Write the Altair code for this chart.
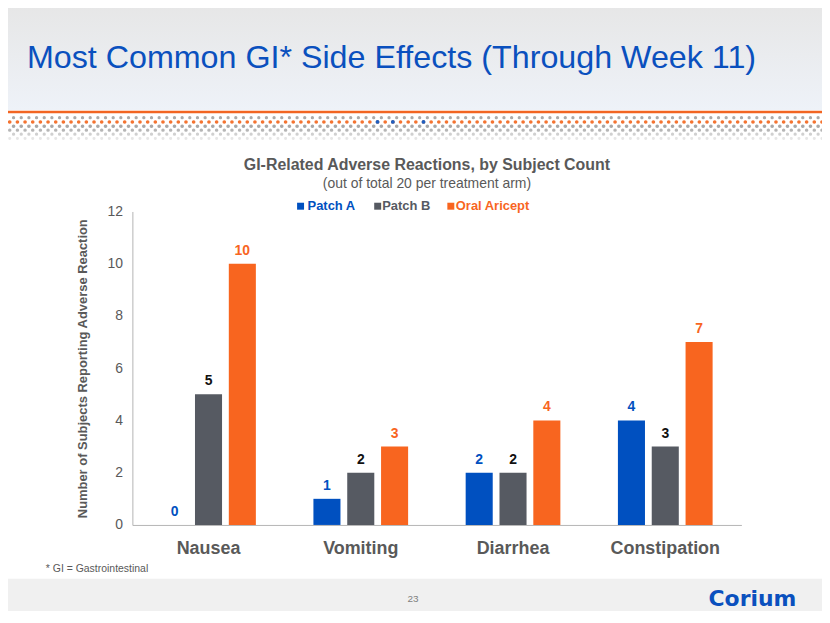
import altair as alt
import pandas as pd

# ---------------- data ----------------
categories = ["Nausea", "Vomiting", "Diarrhea", "Constipation"]
series = ["Patch A", "Patch B", "Oral Aricept"]
patch_a = [0, 1, 2, 4]
patch_b = [5, 2, 2, 3]
oral_aricept = [10, 3, 4, 7]
y_ticks = [0, 2, 4, 6, 8, 10, 12]

main_title = "Most Common GI* Side Effects (Through Week 11)"
chart_title = "GI-Related Adverse Reactions, by Subject Count"
chart_subtitle = "(out of total 20 per treatment arm)"
y_title = "Number of Subjects Reporting Adverse Reaction"
footnote = "* GI = Gastrointestinal"
page_number = "23"
logo_text = "Corium"

# ---------------- styles ----------------
bar_colors = ["#0050c0", "#565a62", "#f8651f"]
label_colors = ["#0050c0", "#111111", "#f8651f"]
GRAY_TEXT = "#595959"
TITLE_BLUE = "#0a50be"
FONT = "Liberation Sans"

rows = []
for s, vals in zip(series, [patch_a, patch_b, oral_aricept]):
    for c, v in zip(categories, vals):
        rows.append({"category": c, "series": s, "value": v})
df = pd.DataFrame(rows)
one = pd.DataFrame({"k": [0]})

W, H = 612, 315  # plot area
TOTAL_W, TOTAL_H = 818, 603

x_enc = alt.X(
    "category:N",
    sort=categories,
    scale=alt.Scale(domain=categories, paddingInner=0.378, paddingOuter=0.189),
    axis=alt.Axis(
        title=None, labelAngle=0, labelFont=FONT, labelFontSize=18,
        labelFontWeight="bold", labelColor=GRAY_TEXT, labelPadding=15,
        ticks=False, domainColor="#b4b4b4", domainWidth=1, grid=False,
    ),
)
xo_enc = alt.XOffset(
    "series:N", scale=alt.Scale(domain=series, paddingInner=0.2, paddingOuter=0)
)
y_enc = alt.Y(
    "value:Q",
    scale=alt.Scale(domain=[0, 12], nice=False),
    axis=alt.Axis(
        values=y_ticks, grid=False, ticks=False, labelFont=FONT,
        labelFontSize=14, labelColor=GRAY_TEXT, labelPadding=10,
        domainColor="#b4b4b4", domainWidth=1,
        title=y_title, titleFont=FONT, titleFontSize=13, titleFontWeight="bold",
        titleColor=GRAY_TEXT, titleAngle=270, titleX=-46, titleY=H / 2,
        titleBaseline="alphabetic", titleAlign="center",
    ),
)

bars = alt.Chart(df).mark_bar().encode(
    x=x_enc,
    xOffset=xo_enc,
    y=y_enc,
    color=alt.Color("series:N", scale=alt.Scale(domain=series, range=bar_colors), legend=None),
)

value_labels = alt.Chart(df).mark_text(
    font=FONT, fontSize=14, fontWeight="bold", baseline="alphabetic", dy=-9
).encode(
    x=alt.X("category:N", sort=categories),
    xOffset=alt.XOffset("series:N"),
    y=alt.Y("value:Q"),
    text=alt.Text("value:Q"),
    fill=alt.Fill("series:N", scale=alt.Scale(domain=series, range=label_colors), legend=None),
)


def deco_text(text, x, y, size, color, weight="normal", align="left", font=FONT):
    return alt.Chart(one).mark_text(
        text=text, font=font, fontSize=size, fontWeight=weight, color=color,
        align=align, baseline="alphabetic",
    ).encode(x=alt.value(x), y=alt.value(y))


def deco_rule(x1, x2, y, color, width, dash=None, cap="butt"):
    kw = dict(color=color, strokeWidth=width, strokeCap=cap)
    if dash is not None:
        kw["strokeDash"] = dash
    return alt.Chart(one).mark_rule(**kw).encode(
        x=alt.value(x1), x2=alt.value(x2), y=alt.value(y)
    )


# plot-area origin is at reference pixel (133, 211)
OX, OY = 133, 211

header = alt.Chart(one).mark_rect(
    color=alt.LinearGradient(
        gradient="linear",
        stops=[alt.GradientStop(color="#e6e6e6", offset=0),
               alt.GradientStop(color="#eef2f8", offset=1)],
        x1=0, x2=0, y1=0, y2=1,
    )
).encode(x=alt.value(-OX), x2=alt.value(830 - OX), y=alt.value(-OY), y2=alt.value(109 - OY))

footer = alt.Chart(one).mark_rect(color="#f0f0f0").encode(
    x=alt.value(-OX), x2=alt.value(830 - OX), y=alt.value(580 - OY), y2=alt.value(623 - OY)
)

orange_line = deco_rule(-OX, 830 - OX, 111 - OY, "#f26522", 2.5)

STEP = 7.7
dot_rows = [
    (116.7, 5.85, "#ababab", 3.2),
    (121.0, 2.0, "#f47330", 3.6),
    (125.3, 5.85, "#a8a8a8", 3.6),
    (129.3, 2.0, "#b6b6b6", 3.4),
    (133.3, 5.85, "#d0d0d0", 3.2),
    (137.7, 2.0, "#e6e6e6", 3.0),
]
dot_layers = [
    deco_rule(x0 - OX, 830 - OX, yy - OY, col, wd, dash=[0.1, STEP - 0.1], cap="round")
    for yy, x0, col, wd in dot_rows
]
blue_dots = deco_rule(
    2.0 + 49 * STEP - OX, 2.0 + 55 * STEP + 0.3 - OX, 121.0 - OY, "#1f5fc0", 3.8,
    dash=[0.1, 2 * STEP - 0.1, 0.1, 4 * STEP - 0.1], cap="round",
)

title_layer = deco_text(main_title, 27 - OX, 67 - OY, 32.4, TITLE_BLUE)
ctitle_layer = deco_text(chart_title, 429 - OX, 169.5 - OY, 16, GRAY_TEXT, weight="bold", align="center")
csub_layer = deco_text(chart_subtitle, 429 - OX, 187 - OY, 14, GRAY_TEXT, align="center")
foot_layer = deco_text(footnote, 46 - OX, 573 - OY, 10.5, GRAY_TEXT)
page_layer = deco_text(page_number, 415 - OX, 603.3 - OY, 10, "#7f7f7f", align="center")
logo_layer = deco_text(logo_text, 712 - OX, 607 - OY, 22, TITLE_BLUE, weight="bold", font="DejaVu Sans")

# manual legend
legend_sq_x = [302, 379.5, 453]
legend_tx_x = [309, 384, 458]
legend_layers = []
for s, col, sx, tx in zip(series, bar_colors, legend_sq_x, legend_tx_x):
    legend_layers.append(
        alt.Chart(one).mark_square(size=49, color=col, opacity=1).encode(
            x=alt.value(sx - OX), y=alt.value(205.7 - OY)
        )
    )
    legend_layers.append(
        alt.Chart(one).mark_text(
            text=s, font=FONT, fontSize=13, fontWeight="bold", color=col,
            align="left", baseline="middle",
        ).encode(x=alt.value(tx - OX), y=alt.value(205.7 - OY))
    )

chart = alt.layer(
    header, footer, orange_line, *dot_layers, blue_dots,
    bars, value_labels,
    title_layer, ctitle_layer, csub_layer, foot_layer, page_layer, logo_layer,
    *legend_layers,
).properties(
    width=W,
    height=H,
    padding={"left": OX - 8, "top": OY - 8, "right": TOTAL_W - (OX - 8) - W,
             "bottom": TOTAL_H - (OY - 8) - H},
    autosize=alt.AutoSizeParams(type="none"),
    background="white",
).configure_view(strokeWidth=0)

chart.save("out.html", embed_options={"renderer": "svg", "actions": False})
